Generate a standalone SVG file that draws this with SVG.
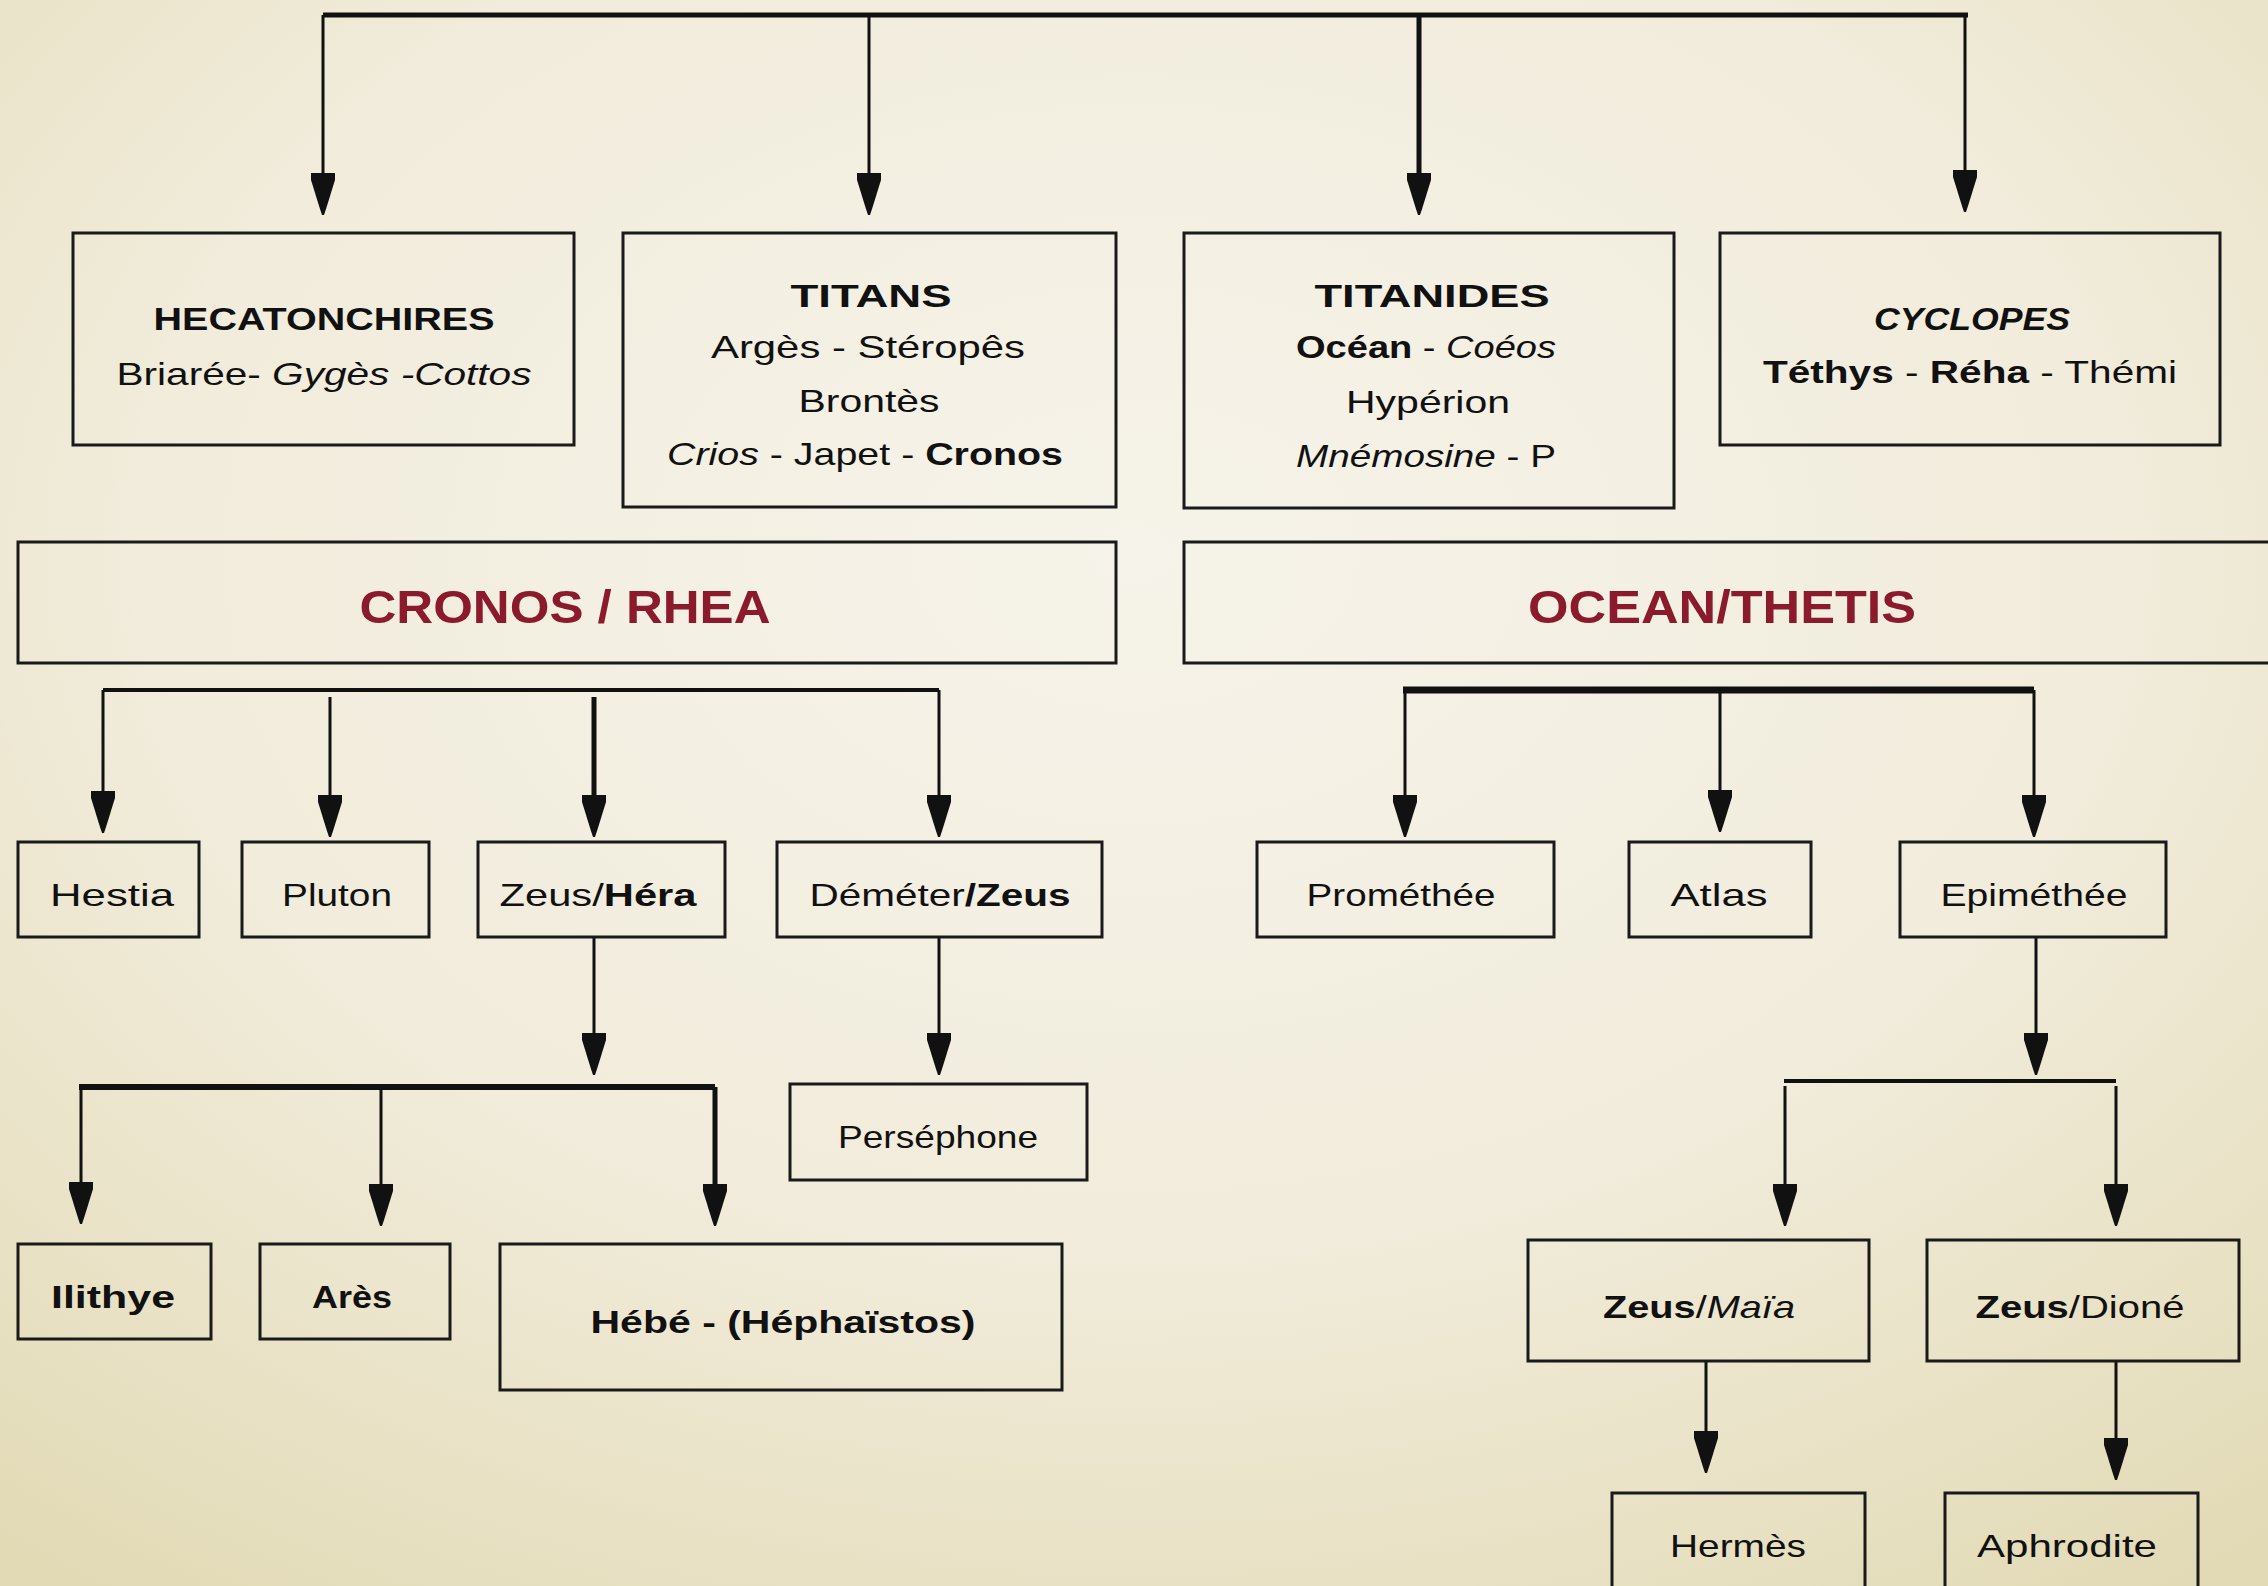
<svg xmlns="http://www.w3.org/2000/svg" xmlns:xlink="http://www.w3.org/1999/xlink" width="2268" height="1586" viewBox="0 0 2268 1586">
<defs>
  <radialGradient id="bg" cx="50%" cy="35%" r="80%">
    <stop offset="0" stop-color="#f6f3ea"/>
    <stop offset="0.55" stop-color="#f1ecdb"/>
    <stop offset="1" stop-color="#e2dab5"/>
  </radialGradient>
  <path id="ah" d="M-12,-42 H12 V-35 L3,-6 L1,0 H-1 L-3,-6 L-12,-35 Z" fill="#111"/>
  <style>
    .box{fill:none;stroke:#1a1a1a;stroke-width:3}
    .ln{fill:none;stroke:#111;stroke-width:3}
    .thk{fill:none;stroke:#111;stroke-width:5}
    .bus{fill:none;stroke:#111;stroke-width:6}
    text{font-family:"Liberation Sans",Arial,sans-serif;font-size:32px;fill:#111;text-anchor:middle}
    .b{font-weight:bold}
    .i{font-style:italic}
    .ttl{font-size:46px;font-weight:bold;fill:#8b1a2c}
  </style>
</defs>
<rect x="0" y="0" width="2268" height="1586" fill="url(#bg)"/>

<g id="connectors">
  <path class="thk" d="M323,15 H1968"/>
  <path class="ln" d="M323,15 V210 M869,15 V210 M1965,15 V208"/>
  <path class="thk" d="M1419,15 V210"/>
  <use href="#ah" x="323" y="215"/><use href="#ah" x="869" y="215"/><use href="#ah" x="1419" y="215"/><use href="#ah" x="1965" y="212"/>

  <path class="ln" d="M103,690 H939" style="stroke-width:4"/>
  <path class="ln" d="M103,690 V830 M330,697 V830 M939,690 V830"/>
  <path class="thk" d="M594,697 V830"/>
  <use href="#ah" x="103" y="833"/><use href="#ah" x="330" y="837"/><use href="#ah" x="594" y="837"/><use href="#ah" x="939" y="837"/>

  <path class="ln" d="M1403,690 H2034" style="stroke-width:7"/>
  <path class="ln" d="M1405,690 V830 M1720,690 V830 M2034,690 V830"/>
  <use href="#ah" x="1405" y="837"/><use href="#ah" x="1720" y="832"/><use href="#ah" x="2034" y="837"/>

  <path class="ln" d="M594,937 V1070"/>
  <use href="#ah" x="594" y="1075"/>
  <path class="bus" d="M79,1087 H715"/>
  <path class="ln" d="M81,1087 V1218 M381,1087 V1220"/>
  <path class="thk" d="M715,1087 V1220"/>
  <use href="#ah" x="81" y="1224"/><use href="#ah" x="381" y="1226"/><use href="#ah" x="715" y="1226"/>

  <path class="ln" d="M939,937 V1070"/>
  <use href="#ah" x="939" y="1075"/>

  <path class="ln" d="M2036,937 V1070"/>
  <use href="#ah" x="2036" y="1075"/>
  <path class="ln" d="M1784,1081 H2116" style="stroke-width:4"/>
  <path class="ln" d="M1785,1086 V1220 M2116,1086 V1220"/>
  <use href="#ah" x="1785" y="1226"/><use href="#ah" x="2116" y="1226"/>

  <path class="ln" d="M1706,1361 V1468 M2116,1361 V1475"/>
  <use href="#ah" x="1706" y="1473"/><use href="#ah" x="2116" y="1480"/>
</g>

<g id="hecatonchires">
  <rect class="box" x="73" y="233" width="501" height="212"/>
  <text x="324" y="330" class="b" textLength="341" lengthAdjust="spacingAndGlyphs">HECATONCHIRES</text>
  <text x="324" y="385" textLength="415" lengthAdjust="spacingAndGlyphs">Briarée- <tspan class="i">Gygès -Cottos</tspan></text>
</g>
<g id="titans">
  <rect class="box" x="623" y="233" width="493" height="274"/>
  <text x="871" y="307" class="b" textLength="161" lengthAdjust="spacingAndGlyphs">TITANS</text>
  <text x="868" y="358" textLength="314" lengthAdjust="spacingAndGlyphs">Argès - Stéropês</text>
  <text x="869" y="412" textLength="141" lengthAdjust="spacingAndGlyphs">Brontès</text>
  <text x="865" y="465" textLength="396" lengthAdjust="spacingAndGlyphs"><tspan class="i">Crios</tspan> - Japet - <tspan class="b">Cronos</tspan></text>
</g>
<g id="titanides">
  <rect class="box" x="1184" y="233" width="490" height="275"/>
  <text x="1432" y="307" class="b" textLength="235" lengthAdjust="spacingAndGlyphs">TITANIDES</text>
  <text x="1426" y="358" textLength="260" lengthAdjust="spacingAndGlyphs"><tspan class="b">Océan</tspan> - <tspan class="i">Coéos</tspan></text>
  <text x="1428" y="413" textLength="164" lengthAdjust="spacingAndGlyphs">Hypérion</text>
  <text x="1426" y="467" textLength="260" lengthAdjust="spacingAndGlyphs"><tspan class="i">Mnémosine</tspan> - P</text>
</g>
<g id="cyclopes">
  <rect class="box" x="1720" y="233" width="500" height="212"/>
  <text x="1972" y="330" class="b i" textLength="196" lengthAdjust="spacingAndGlyphs">CYCLOPES</text>
  <text x="1970" y="383" textLength="414" lengthAdjust="spacingAndGlyphs"><tspan class="b">Téthys</tspan> - <tspan class="b">Réha</tspan> - Thémi</text>
</g>
<g id="cronos-rhea">
  <rect class="box" x="18" y="542" width="1098" height="121"/>
  <text x="565" y="623" class="ttl" textLength="411" lengthAdjust="spacingAndGlyphs">CRONOS / RHEA</text>
</g>
<g id="ocean-thetis">
  <rect class="box" x="1184" y="542" width="1100" height="121"/>
  <text x="1722" y="623" class="ttl" textLength="388" lengthAdjust="spacingAndGlyphs">OCEAN/THETIS</text>
</g>
<g id="hestia">
  <rect class="box" x="18" y="842" width="181" height="95"/>
  <text x="112" y="906" textLength="124" lengthAdjust="spacingAndGlyphs">Hestia</text>
</g>
<g id="pluton">
  <rect class="box" x="242" y="842" width="187" height="95"/>
  <text x="337" y="906" textLength="110" lengthAdjust="spacingAndGlyphs">Pluton</text>
</g>
<g id="zeus-hera">
  <rect class="box" x="478" y="842" width="247" height="95"/>
  <text x="598" y="906" textLength="197" lengthAdjust="spacingAndGlyphs">Zeus/<tspan class="b">Héra</tspan></text>
</g>
<g id="demeter-zeus">
  <rect class="box" x="777" y="842" width="325" height="95"/>
  <text x="940" y="906" textLength="261" lengthAdjust="spacingAndGlyphs">Déméter<tspan class="b">/Zeus</tspan></text>
</g>
<g id="promethee">
  <rect class="box" x="1257" y="842" width="297" height="95"/>
  <text x="1401" y="906" textLength="189" lengthAdjust="spacingAndGlyphs">Prométhée</text>
</g>
<g id="atlas">
  <rect class="box" x="1629" y="842" width="182" height="95"/>
  <text x="1719" y="906" textLength="97" lengthAdjust="spacingAndGlyphs">Atlas</text>
</g>
<g id="epimethee">
  <rect class="box" x="1900" y="842" width="266" height="95"/>
  <text x="2034" y="906" textLength="187" lengthAdjust="spacingAndGlyphs">Epiméthée</text>
</g>
<g id="persephone">
  <rect class="box" x="790" y="1084" width="297" height="96"/>
  <text x="938" y="1148" textLength="200" lengthAdjust="spacingAndGlyphs">Perséphone</text>
</g>
<g id="ilithye">
  <rect class="box" x="18" y="1244" width="193" height="95"/>
  <text x="113" y="1308" class="b" textLength="124" lengthAdjust="spacingAndGlyphs">Ilithye</text>
</g>
<g id="ares">
  <rect class="box" x="260" y="1244" width="190" height="95"/>
  <text x="352" y="1308" class="b" textLength="80" lengthAdjust="spacingAndGlyphs">Arès</text>
</g>
<g id="hebe">
  <rect class="box" x="500" y="1244" width="562" height="146"/>
  <text x="783" y="1333" class="b" textLength="385" lengthAdjust="spacingAndGlyphs">Hébé  - (Héphaïstos)</text>
</g>
<g id="zeus-maia">
  <rect class="box" x="1528" y="1240" width="341" height="121"/>
  <text x="1699" y="1318" textLength="192" lengthAdjust="spacingAndGlyphs"><tspan class="b">Zeus</tspan>/<tspan class="i">Maïa</tspan></text>
</g>
<g id="zeus-dione">
  <rect class="box" x="1927" y="1240" width="312" height="121"/>
  <text x="2080" y="1318" textLength="209" lengthAdjust="spacingAndGlyphs"><tspan class="b">Zeus</tspan>/Dioné</text>
</g>
<g id="hermes">
  <rect class="box" x="1612" y="1493" width="253" height="120"/>
  <text x="1738" y="1557" textLength="136" lengthAdjust="spacingAndGlyphs">Hermès</text>
</g>
<g id="aphrodite">
  <rect class="box" x="1945" y="1493" width="253" height="120"/>
  <text x="2067" y="1557" textLength="180" lengthAdjust="spacingAndGlyphs">Aphrodite</text>
</g>
</svg>
